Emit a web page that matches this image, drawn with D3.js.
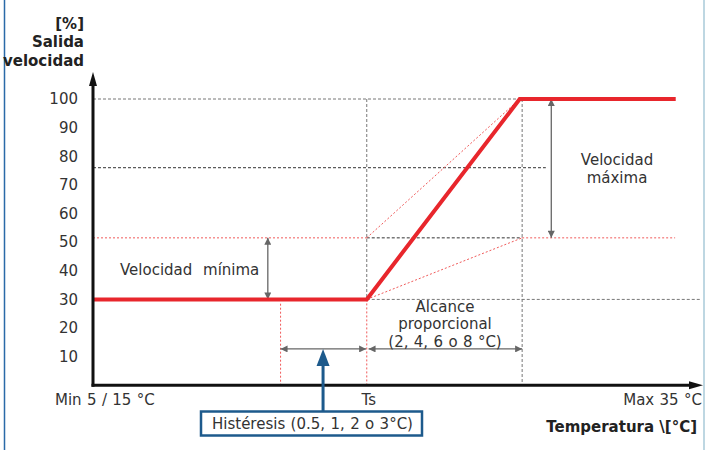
<!DOCTYPE html>
<html>
<head>
<meta charset="utf-8">
<script src="https://cdn.jsdelivr.net/npm/d3@7"></script>
<style>
  body { margin: 0; background: #fff; }
  svg { display: block; font-family: "DejaVu Sans", Verdana, sans-serif; }
  .lbl { font-size: 15px; fill: #333; word-spacing: 0.6px; }
  .bold { font-size: 15px; font-weight: bold; fill: #222; }
</style>
</head>
<body>
<svg id="chart"></svg>
<script>
// Eje Y: salida de velocidad en %
const speedTicks = [10, 20, 30, 40, 50, 60, 70, 80, 90, 100];

// Eje X: posición relativa de temperatura (0 = Min, 100 = Max)
const hystStart = 30.9;
const ts = 45.1;
const bandEnd = 70.7;

// Curva de salida (temperatura, velocidad)
const curveTemp = [0, ts, 70.3, 96];
const curveSpeed = [30, 30, 100, 100];

// Líneas guía [x0, y0, x1, y1]
const grayGuides = [
  [0, 100, 70.3, 100],
  [ts, 100, ts, 30],
  [bandEnd, 100, bandEnd, 0],
  [ts, 30, 100, 30]
];
const darkGuides = [
  [0, 76, 74.6, 76],
  [ts, 51.5, bandEnd, 51.5]
];
const redGuides = [
  [0, 51.5, ts, 51.5],
  [bandEnd, 51.5, 95.9, 51.5],
  [hystStart, 28.5, hystStart, 0],
  [ts, 30, ts, 0],
  [ts, 51.5, 70.3, 100],
  [ts, 30, bandEnd, 51.5]
];

// Cotas con flechas dobles
const dimArrows = [
  [28.8, 51.5, 28.8, 30],
  [75.5, 100, 75.5, 51.5],
  [hystStart, 12.7, ts - 0.1, 12.7],
  [ts + 0.3, 12.7, bandEnd, 12.7]
];

const W = 705, H = 450;
const svg = d3.select("#chart").attr("width", W).attr("height", H);

const x = d3.scaleLinear().domain([0, 100]).range([93, 700]);
const y = d3.scaleLinear().domain([0, 100]).range([385.3, 99]);

// marco lateral
svg.append("line").attr("x1", 4.5).attr("x2", 4.5).attr("y1", 0).attr("y2", H)
  .attr("stroke", "#2a6aa8").attr("stroke-width", 1.5);
svg.append("line").attr("x1", 704).attr("x2", 704).attr("y1", 0).attr("y2", H)
  .attr("stroke", "#a8cad8").attr("stroke-width", 1.5);

const defs = svg.append("defs");
defs.append("marker")
  .attr("id", "tip")
  .attr("viewBox", "0 0 10 10")
  .attr("refX", 10).attr("refY", 5)
  .attr("markerWidth", 9).attr("markerHeight", 7)
  .attr("markerUnits", "userSpaceOnUse")
  .attr("orient", "auto-start-reverse")
  .append("path")
  .attr("d", "M0,0L10,5L0,10Z")
  .attr("fill", "#666");

const drawSegs = (segs, color, dash, w) => {
  svg.append("g").selectAll("line")
    .data(segs)
    .join("line")
    .attr("x1", d => x(d[0])).attr("y1", d => y(d[1]))
    .attr("x2", d => x(d[2])).attr("y2", d => y(d[3]))
    .attr("stroke", color)
    .attr("stroke-width", w)
    .attr("stroke-dasharray", dash);
};

drawSegs(grayGuides, "#777", "3,2", 1);
drawSegs(darkGuides, "#333", "3,2", 1);
drawSegs(redGuides, "#f05a5a", "2,2", 1);

// cotas
svg.append("g").selectAll("line")
  .data(dimArrows)
  .join("line")
  .attr("x1", d => x(d[0])).attr("y1", d => y(d[1]))
  .attr("x2", d => x(d[2])).attr("y2", d => y(d[3]))
  .attr("stroke", "#666")
  .attr("stroke-width", 1.3)
  .attr("marker-start", "url(#tip)")
  .attr("marker-end", "url(#tip)");

// curva de salida
const line = d3.line()
  .x((d, i) => x(curveTemp[i]))
  .y(d => y(d));

svg.append("path")
  .datum(curveSpeed)
  .attr("fill", "none")
  .attr("stroke", "#e8262c")
  .attr("stroke-width", 4)
  .attr("d", line);

// ejes
const x0 = x(0), y0 = y(0);
svg.append("line").attr("x1", x0).attr("x2", x0).attr("y1", y0 + 1.5).attr("y2", 84)
  .attr("stroke", "#111").attr("stroke-width", 3);
svg.append("path").attr("d", `M${x0 - 4},86L${x0},72L${x0 + 4},86Z`).attr("fill", "#111");
svg.append("line").attr("x1", x0 - 1.5).attr("x2", 690).attr("y1", y0).attr("y2", y0)
  .attr("stroke", "#111").attr("stroke-width", 3);
svg.append("path").attr("d", `M689,${y0 - 4}L703,${y0}L689,${y0 + 4}Z`).attr("fill", "#111");

const yAxis = svg.append("g")
  .attr("transform", `translate(${x0},0)`)
  .call(d3.axisLeft(y).tickValues(speedTicks).tickSize(0).tickPadding(15));
yAxis.select(".domain").remove();
yAxis.selectAll("text")
  .attr("class", "lbl")
  .style("font-family", "DejaVu Sans, Verdana, sans-serif");

// título eje Y
["[%]", "Salida", "velocidad"].forEach((t, i) => {
  svg.append("text").attr("class", "bold")
    .attr("x", 84).attr("y", 29 + i * 18.3)
    .attr("text-anchor", "end").text(t);
});

// etiquetas eje X
svg.append("text").attr("class", "lbl").attr("x", 55).attr("y", 405).text("Min 5 / 15 °C");
svg.append("text").attr("class", "lbl").attr("x", x(ts) + 2).attr("y", 405)
  .attr("text-anchor", "middle").text("Ts");
svg.append("text").attr("class", "lbl").attr("x", 702).attr("y", 405)
  .attr("text-anchor", "end").text("Max 35 °C");
svg.append("text").attr("class", "bold").attr("x", 697).attr("y", 432)
  .attr("text-anchor", "end").text("Temperatura \\[°C]");

// anotaciones
svg.append("text").attr("class", "lbl").attr("x", 120).attr("y", 275)
  .attr("xml:space", "preserve").style("white-space", "pre").text("Velocidad  mínima");

["Velocidad", "máxima"].forEach((t, i) => {
  svg.append("text").attr("class", "lbl")
    .attr("x", 617).attr("y", 165 + i * 18)
    .attr("text-anchor", "middle").text(t);
});

["Alcance", "proporcional", "(2, 4, 6 o 8 °C)"].forEach((t, i) => {
  svg.append("text").attr("class", "lbl")
    .attr("x", 445).attr("y", 312 + i * 17.3)
    .attr("text-anchor", "middle").text(t);
});

// flecha azul y cuadro de histéresis
const blue = "#1d5a8c";
const bx = x(37.9), tipY = y(12.7);
svg.append("line").attr("x1", bx).attr("x2", bx).attr("y1", 411).attr("y2", tipY + 14)
  .attr("stroke", blue).attr("stroke-width", 3);
svg.append("path")
  .attr("d", `M${bx - 6.5},${tipY + 17}L${bx},${tipY}L${bx + 6.5},${tipY + 17}Z`)
  .attr("fill", blue);

svg.append("rect")
  .attr("x", 201).attr("y", 411.5).attr("width", 221).attr("height", 24)
  .attr("fill", "#fff").attr("stroke", blue).attr("stroke-width", 2.5);
svg.append("text").attr("class", "lbl").attr("x", 212).attr("y", 429)
  .text("Histéresis (0.5, 1, 2 o 3°C)");
</script>
</body>
</html>
